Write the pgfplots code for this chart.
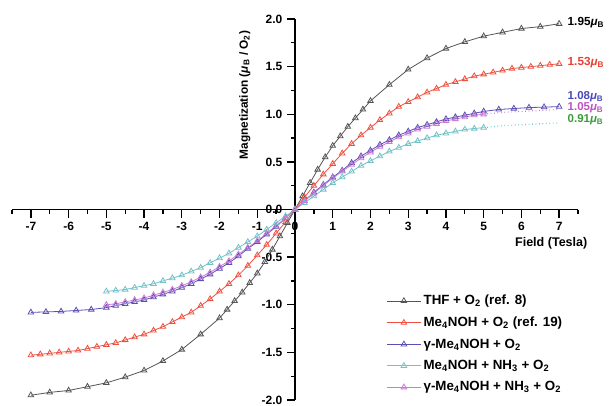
\documentclass[border=0pt]{standalone}
\usepackage{pgfplots}
\pgfplotsset{compat=1.18}
\usepackage{fontspec}
\setmainfont{Liberation Sans}

\definecolor{cthf}{HTML}{555555}
\definecolor{cred}{HTML}{EE5040}
\definecolor{cblue}{HTML}{5A50B4}
\definecolor{ccyan}{HTML}{72C2C8}
\definecolor{cmag}{HTML}{C87CD8}
\definecolor{lred}{HTML}{E84030}
\definecolor{lblue}{HTML}{4848B8}
\definecolor{lmag}{HTML}{C050C0}
\definecolor{lgreen}{HTML}{3C9A3C}

\newcommand{\muB}{\textit{μ}\textsubscript{B}}

\begin{document}
\begin{tikzpicture}
\useasboundingbox (-9pt,-3.75pt) rectangle (448.5pt,300pt);
\begin{axis}[
    at={(0,0)}, anchor=south west,
    scale only axis,
    width=424.5pt, height=285.75pt,
    axis lines=middle,
    axis line style={-, line width=1.1pt},
    xmin=-7.5, xmax=7.5,
    ymin=-2, ymax=2,
    xtick={-7,-6,...,7},
    minor xtick={-7.5,-6.5,...,7.5},
    ytick={-2,-1.5,...,2},
    minor ytick={-1.75,-1.25,...,1.75},
    tick align=outside,
    major tick length=6pt,
    minor tick length=3pt,
    every tick/.style={black, line width=1pt},
    hide obscured x ticks=false,
    hide obscured y ticks=false,
    tick label style={font=\bfseries\fontsize{9}{10}\selectfont},
    /pgf/number format/assume math mode=true,
    yticklabel style={/pgf/number format/.cd, fixed, fixed zerofill, precision=1},
    xlabel={Field (Tesla)},
    ylabel={Magnetization (\muB\ / O\textsubscript{2})},
    xlabel style={at={(axis cs:6.79,-0.35)}, anchor=center, font=\bfseries\fontsize{9.4}{10}\selectfont},
    ylabel style={at={(axis cs:-1.33,1.2)}, anchor=center, rotate=90, font=\bfseries\fontsize{8.9}{10}\selectfont},
    clip=false,
    every axis plot/.append style={line width=0.6pt, mark=triangle, mark size=2.4pt, mark options={solid, fill=white}},
    legend image code/.code={
        \draw[mark repeat=2, mark phase=2] plot coordinates {(0pt,0pt)(12.5pt,0pt)(25pt,0pt)};},
    legend style={at={(axis cs:2.32,-0.84)}, anchor=north west, draw=none, fill=none,
        font=\bfseries\fontsize{10}{11}\selectfont, row sep=3.6pt,
        /tikz/every even column/.append style={column sep=1pt}},
    legend cell align=left,
]

% THF + O2
\addplot[color=cthf] coordinates {
(-7,-1.95)(-6.5,-1.92)(-6,-1.90)(-5.5,-1.86)(-5,-1.82)(-4.5,-1.76)(-4,-1.69)
(-3.5,-1.59)(-3,-1.47)(-2.5,-1.31)(-2,-1.14)(-1.8,-1.05)(-1.6,-0.96)(-1.4,-0.87)
(-1.2,-0.77)(-1,-0.67)(-0.8,-0.55)(-0.6,-0.42)(-0.4,-0.28)(-0.2,-0.14)(0,0)
(0.2,0.14)(0.4,0.28)(0.6,0.42)(0.8,0.55)(1,0.67)(1.2,0.77)(1.4,0.87)(1.6,0.96)
(1.8,1.05)(2,1.14)(2.5,1.31)(3,1.47)(3.5,1.59)(4,1.69)(4.5,1.76)(5,1.82)
(5.5,1.86)(6,1.90)(6.5,1.92)(7,1.95)
};
\addlegendentry{THF + O\textsubscript{2} (ref. 8)}

% Me4NOH + O2
\addplot[color=cred] coordinates {
(-7,-1.53)(-6.75,-1.52)(-6.5,-1.51)(-6.25,-1.50)(-6,-1.49)(-5.75,-1.48)(-5.5,-1.46)
(-5.25,-1.44)(-5,-1.42)(-4.75,-1.40)(-4.5,-1.37)(-4.25,-1.34)(-4,-1.31)(-3.75,-1.27)
(-3.5,-1.23)(-3.25,-1.18)(-3,-1.13)(-2.75,-1.08)(-2.5,-1.01)(-2.25,-0.94)(-2,-0.86)
(-1.75,-0.78)(-1.5,-0.69)(-1.25,-0.59)(-1,-0.48)(-0.75,-0.37)(-0.5,-0.25)(-0.25,-0.13)
(0,0)(0.25,0.13)(0.5,0.25)(0.75,0.37)(1,0.48)(1.25,0.59)(1.5,0.69)(1.75,0.78)
(2,0.86)(2.25,0.94)(2.5,1.01)(2.75,1.08)(3,1.13)(3.25,1.18)(3.5,1.23)(3.75,1.27)
(4,1.31)(4.25,1.34)(4.5,1.37)(4.75,1.40)(5,1.42)(5.25,1.44)(5.5,1.46)(5.75,1.48)
(6,1.49)(6.25,1.50)(6.5,1.51)(6.75,1.52)(7,1.53)
};
\addlegendentry{Me\textsubscript{4}NOH + O\textsubscript{2} (ref. 19)}

% gamma-Me4NOH + O2
\addplot[color=cblue] coordinates {
(-7,-1.08)(-6.6,-1.075)(-6.2,-1.07)(-5.8,-1.06)(-5.4,-1.05)(-5,-1.03)(-4.75,-1.01)
(-4.5,-0.99)(-4.25,-0.97)(-4,-0.95)(-3.75,-0.92)(-3.5,-0.89)(-3.25,-0.86)(-3,-0.82)
(-2.75,-0.78)(-2.5,-0.73)(-2.25,-0.68)(-2,-0.62)(-1.75,-0.56)(-1.5,-0.49)(-1.25,-0.41)
(-1,-0.34)(-0.75,-0.26)(-0.5,-0.18)(-0.25,-0.09)(0,0)(0.25,0.09)(0.5,0.18)(0.75,0.26)
(1,0.34)(1.25,0.41)(1.5,0.49)(1.75,0.56)(2,0.62)(2.25,0.68)(2.5,0.73)(2.75,0.78)
(3,0.82)(3.25,0.86)(3.5,0.89)(3.75,0.92)(4,0.95)(4.25,0.97)(4.5,0.99)(4.75,1.01)
(5,1.03)(5.4,1.05)(5.8,1.06)(6.2,1.07)(6.6,1.075)(7,1.08)
};
\addlegendentry{γ-Me\textsubscript{4}NOH + O\textsubscript{2}}

% Me4NOH + NH3 + O2
\addplot[color=ccyan] coordinates {
(-5,-0.86)(-4.75,-0.85)(-4.5,-0.84)(-4.25,-0.82)(-4,-0.80)(-3.75,-0.78)(-3.5,-0.75)
(-3.25,-0.72)(-3,-0.69)(-2.75,-0.65)(-2.5,-0.61)(-2.25,-0.56)(-2,-0.51)(-1.75,-0.46)
(-1.5,-0.40)(-1.25,-0.34)(-1,-0.28)(-0.75,-0.21)(-0.5,-0.14)(-0.25,-0.07)(0,0)
(0.25,0.07)(0.5,0.14)(0.75,0.21)(1,0.28)(1.25,0.34)(1.5,0.40)(1.75,0.46)(2,0.51)
(2.25,0.56)(2.5,0.61)(2.75,0.65)(3,0.69)(3.25,0.72)(3.5,0.75)(3.75,0.78)(4,0.80)
(4.25,0.82)(4.5,0.84)(4.75,0.85)(5,0.86)
};
\addlegendentry{Me\textsubscript{4}NOH + NH\textsubscript{3} + O\textsubscript{2}}

% gamma-Me4NOH + NH3 + O2
\addplot[color=cmag] coordinates {
(-5,-1.00)(-4.75,-0.99)(-4.5,-0.97)(-4.25,-0.95)(-4,-0.93)(-3.75,-0.90)(-3.5,-0.87)
(-3.25,-0.84)(-3,-0.80)(-2.75,-0.76)(-2.5,-0.71)(-2.25,-0.66)(-2,-0.60)(-1.75,-0.54)
(-1.5,-0.47)(-1.25,-0.40)(-1,-0.33)(-0.75,-0.25)(-0.5,-0.17)(-0.25,-0.09)(0,0)
(0.25,0.09)(0.5,0.17)(0.75,0.25)(1,0.33)(1.25,0.40)(1.5,0.47)(1.75,0.54)(2,0.60)
(2.25,0.66)(2.5,0.71)(2.75,0.76)(3,0.80)(3.25,0.84)(3.5,0.87)(3.75,0.90)(4,0.93)
(4.25,0.95)(4.5,0.97)(4.75,0.99)(5,1.00)
};
\addlegendentry{γ-Me\textsubscript{4}NOH + NH\textsubscript{3} + O\textsubscript{2}}

% dotted saturation extensions
\addplot[forget plot, color=ccyan, dotted, line width=0.9pt, mark=none] coordinates {
(5,0.86)(5.5,0.88)(6,0.89)(6.5,0.90)(7,0.91)
};
\addplot[forget plot, color=cmag, dotted, line width=0.9pt, mark=none] coordinates {
(5,1.00)(5.5,1.02)(6,1.03)(6.5,1.04)(7,1.05)
};

\node[anchor=west, inner sep=0pt, font=\bfseries\fontsize{8.8}{10}\selectfont, text=black] at (axis cs:7.22,1.96) {1.95\muB};
\node[anchor=west, inner sep=0pt, font=\bfseries\fontsize{8.8}{10}\selectfont, text=lred] at (axis cs:7.22,1.54) {1.53\muB};
\node[anchor=west, inner sep=0pt, font=\bfseries\fontsize{8.6}{10}\selectfont, text=lblue] at (axis cs:7.22,1.18) {1.08\muB};
\node[anchor=west, inner sep=0pt, font=\bfseries\fontsize{8.6}{10}\selectfont, text=lmag] at (axis cs:7.22,1.065) {1.05\muB};
\node[anchor=west, inner sep=0pt, font=\bfseries\fontsize{8.6}{10}\selectfont, text=lgreen] at (axis cs:7.22,0.94) {0.91\muB};
\end{axis}
\end{tikzpicture}
\end{document}
